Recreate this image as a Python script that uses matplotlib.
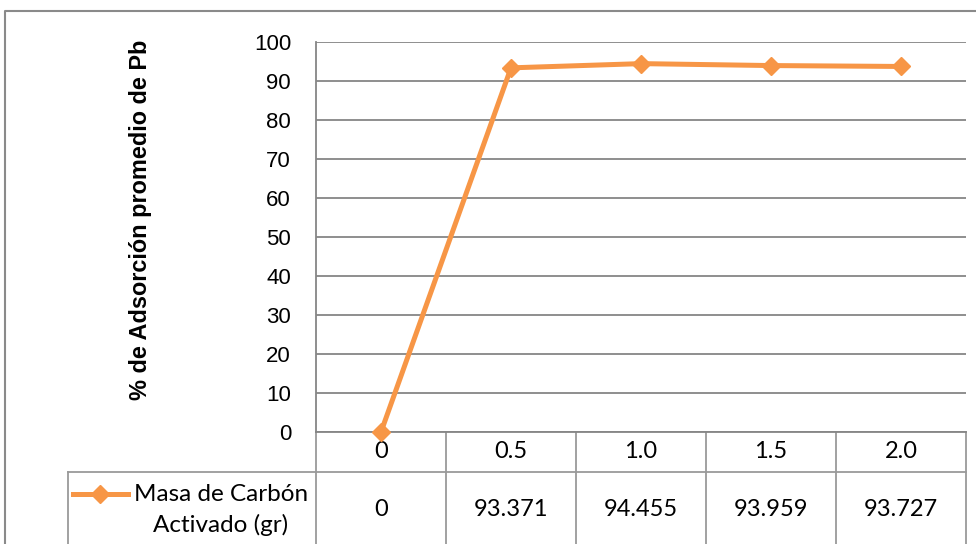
import matplotlib
matplotlib.use("Agg")
import matplotlib.pyplot as plt
from matplotlib.lines import Line2D
import matplotlib.transforms as mtransforms

categories = ["0", "0.5", "1.0", "1.5", "2.0"]
values = [0, 93.371, 94.455, 93.959, 93.727]
value_labels = ["0", "93.371", "94.455", "93.959", "93.727"]
series_name = "Masa de Carbón\nActivado (gr)"
y_label = "% de Adsorción promedio de Pb"
y_ticks = [0, 10, 20, 30, 40, 50, 60, 70, 80, 90, 100]

W, H = 976, 544
fig = plt.figure(figsize=(W / 100, H / 100), dpi=100)

def fx(px):
    return px / W

def fy(py):
    return 1 - py / H

orange = "#F79646"
grid_c = "#868686"
tab_font = ["Lato", "DejaVu Sans"]
ax_font = ["Liberation Sans", "DejaVu Sans"]

left, right, top, bottom = 316, 966, 42, 432
ax = fig.add_axes([fx(left), fy(bottom), fx(right - left), (bottom - top) / H])
x = list(range(len(categories)))
ax.plot(x, values, color=orange, lw=3.6, marker="D", markersize=9.5,
        markerfacecolor=orange, markeredgecolor=orange, zorder=5, clip_on=False)
ax.set_xlim(-0.5, len(categories) - 0.5)
ax.set_ylim(0, 100)
ax.set_yticks(y_ticks)
ax.set_yticklabels([str(t) for t in y_ticks], fontsize=16, family=ax_font)
ax.tick_params(axis="y", length=0, pad=18)
ax.set_xticks([])
ax.grid(axis="y", color=grid_c, lw=1.3)
ax.set_axisbelow(True)
for s in ["top", "right"]:
    ax.spines[s].set_visible(False)
ax.spines["left"].set_color(grid_c)
ax.spines["left"].set_linewidth(1.3)
ax.spines["bottom"].set_color(grid_c)
ax.spines["bottom"].set_linewidth(1.3)

# y label
fig.text(fx(140), fy(220), y_label, rotation=90, ha="center", va="center",
         fontsize=16.9, fontweight="bold", family=ax_font)

# data table (x in data coords, y in axes fraction)
trans = mtransforms.blended_transform_factory(ax.transData, ax.transAxes)
row_h = 40 / (bottom - top)
row1_bot = -row_h
tbl_bot = -(H - bottom + 5) / (bottom - top)
tab_c = "#9a9a9a"
n = len(categories)
for i in range(n + 1):
    ax.add_line(Line2D([i - 0.5, i - 0.5], [0, tbl_bot], transform=trans,
                       color=tab_c, lw=1.3, clip_on=False))
ax_w_data = (right - left) / n  # pixels per category
leg_left = -0.5 - (left - 68) / ax_w_data
ax.add_line(Line2D([leg_left, n - 0.5], [row1_bot, row1_bot], transform=trans,
                   color=tab_c, lw=1.3, clip_on=False))
ax.add_line(Line2D([leg_left, leg_left], [row1_bot, tbl_bot], transform=trans,
                   color=tab_c, lw=1.3, clip_on=False))
for i in range(n):
    ax.text(i, -row_h / 2, categories[i], transform=trans, ha="center",
            va="center", fontsize=17, family=tab_font)
    ax.text(i, -(510 - bottom) / (bottom - top), value_labels[i], transform=trans,
            ha="center", va="center", fontsize=17, family=tab_font)

# legend key in table
fig.add_artist(Line2D([fx(73), fx(128)], [fy(494), fy(494)], color=orange, lw=3.6))
fig.add_artist(Line2D([fx(100)], [fy(494)], color=orange, marker="D", markersize=9.5,
                      markerfacecolor=orange, markeredgecolor=orange, lw=0))
fig.text(fx(221), fy(510), series_name, ha="center", va="center", fontsize=17.5,
         family=tab_font, multialignment="center", linespacing=1.5)

# outer chart frame
fig.add_artist(Line2D([fx(5), fx(5), fx(W + 5)], [fy(H + 5), fy(11), fy(11)],
                      color="#8a8a8a", lw=1.5))

fig.savefig("out.png", dpi=100)
